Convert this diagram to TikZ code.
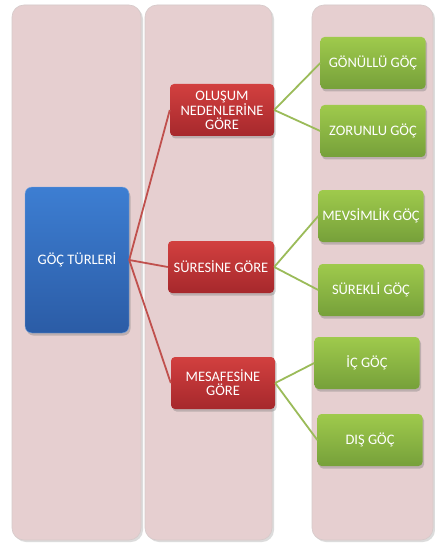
\documentclass[tikz,border=0pt]{standalone}
\usepackage{fontspec}
\setmainfont{Carlito}
\usetikzlibrary{shadows}

\definecolor{panelpink}{HTML}{E6CFD0}
\definecolor{paneledge}{HTML}{D6CACA}
\definecolor{bluetop}{HTML}{3D7ED2}
\definecolor{bluebot}{HTML}{2B5CA6}
\definecolor{redtop}{HTML}{D2403F}
\definecolor{redbot}{HTML}{A6282C}
\definecolor{greentop}{HTML}{9FCA4C}
\definecolor{greenbot}{HTML}{76A03A}
\definecolor{linered}{HTML}{C0504D}
\definecolor{linegreen}{HTML}{9BBB59}

\begin{document}
\begin{tikzpicture}[x=1pt,y=-1pt,
  panel/.style={fill=panelpink,draw=paneledge,line width=0.6pt,rounded corners=12pt,
    drop shadow={shadow xshift=2pt,shadow yshift=-2pt,fill=black!30,opacity=0.45}},
  boxtext/.style={text=white,align=center,font=\fontsize{14.5}{13.8}\selectfont,inner sep=2pt,
    drop shadow={shadow xshift=1.5pt,shadow yshift=-2.5pt,fill=black!55,opacity=0.35}},
  rootbox/.style={boxtext,rounded corners=7pt,top color=bluetop,bottom color=bluebot,
    draw=bluetop!70!white,line width=0.4pt,minimum width=104pt,minimum height=146pt},
  groupbox/.style={boxtext,rounded corners=4pt,top color=redtop,bottom color=redbot,
    minimum width=104pt,minimum height=52pt},
  leafbox/.style={boxtext,rounded corners=4pt,top color=greentop,bottom color=greenbot,
    minimum width=105pt,minimum height=52pt},
  redline/.style={draw=linered,line width=1.8pt},
  greenline/.style={draw=linegreen,line width=1.8pt}]
  \useasboundingbox (0,0) rectangle (435,548);
  \fill[white] (0,0) rectangle (435,548);
  \path[panel] (12,5) rectangle (141,540);
  \path[panel] (145,5) rectangle (272,540);
  \path[panel] (312,5) rectangle (433,540);

  \node[rootbox] (turler) at (77,260) {GÖÇ TÜRLERİ};

  \node[groupbox] (nedenler) at (222,110) {OLUŞUM\\NEDENLERİNE\\GÖRE};
  \node[groupbox,minimum width=106pt] (sure) at (221,267) {SÜRESİNE GÖRE};
  \node[groupbox] (mesafe) at (223,383) {MESAFESİNE\\GÖRE};

  \node[leafbox] (gonullu) at (373,63) {GÖNÜLLÜ GÖÇ};
  \node[leafbox] (zorunlu) at (373,131) {ZORUNLU GÖÇ};
  \node[leafbox] (mevsimlik) at (371,216) {MEVSİMLİK GÖÇ};
  \node[leafbox] (surekli) at (371,290) {SÜREKLİ GÖÇ};
  \node[leafbox] (ic) at (367,363) {İÇ GÖÇ};
  \node[leafbox] (dis) at (370,440) {DIŞ GÖÇ};

  \draw[redline] (turler.east) -- (nedenler.west);
  \draw[redline] (turler.east) -- (sure.west);
  \draw[redline] (turler.east) -- (mesafe.west);
  \draw[greenline] (nedenler.east) -- (gonullu.west);
  \draw[greenline] (nedenler.east) -- (zorunlu.west);
  \draw[greenline] (sure.east) -- (mevsimlik.west);
  \draw[greenline] (sure.east) -- (surekli.west);
  \draw[greenline] (mesafe.east) -- (ic.west);
  \draw[greenline] (mesafe.east) -- (dis.west);
\end{tikzpicture}
\end{document}
